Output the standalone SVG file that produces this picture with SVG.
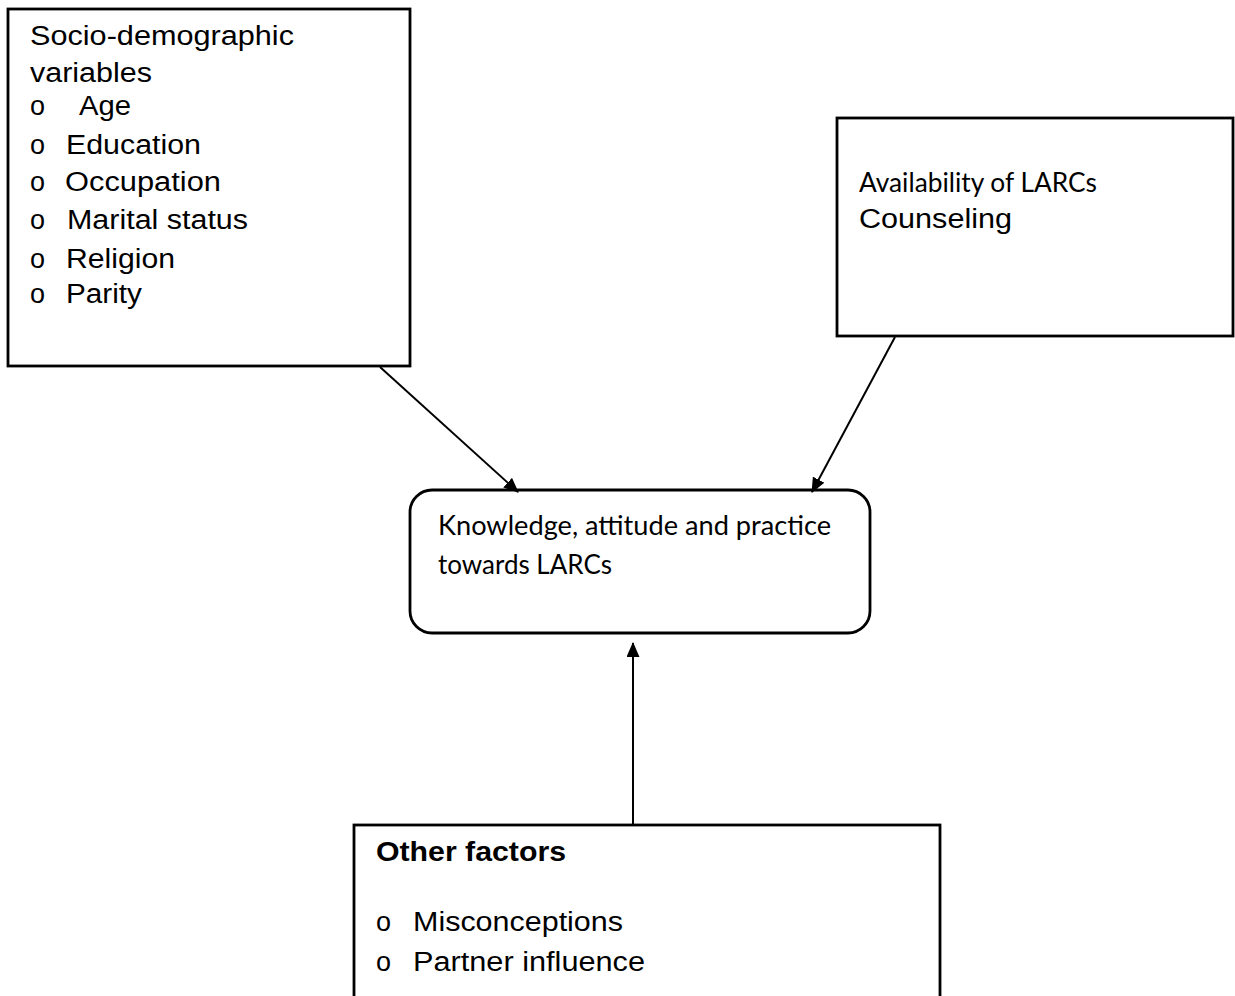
<svg xmlns="http://www.w3.org/2000/svg" width="1235" height="996" viewBox="0 0 1235 996">
<defs>
<marker id="ah" markerWidth="15" markerHeight="13" refX="14" refY="6.5" orient="auto" markerUnits="userSpaceOnUse" viewBox="0 0 15 13">
<path d="M0,0 L15,6.5 L0,13 z" fill="#000"/>
</marker>
<style>
.box{fill:#fff;stroke:#000;stroke-width:2.8}
.a{font-family:"Liberation Sans",Arial,sans-serif;font-size:27px;fill:#000}
.c{font-family:Lato,"Liberation Sans",sans-serif;font-size:26px;fill:#000}
.b{font-family:"Liberation Sans",Arial,sans-serif;font-size:27px;font-weight:bold;fill:#000}
.ln{stroke:#000;stroke-width:2;fill:none}
</style>
</defs>
<rect width="1235" height="996" fill="#fff"/>
<g id="socio">
<rect class="box" x="8" y="9" width="402" height="357"/>
<text class="a" x="30" y="45" textLength="264" lengthAdjust="spacingAndGlyphs">Socio-demographic</text>
<text class="a" x="30" y="82" textLength="122" lengthAdjust="spacingAndGlyphs">variables</text>
<text class="a" x="30" y="115">o</text><text class="a" x="79" y="115" textLength="52" lengthAdjust="spacingAndGlyphs">Age</text>
<text class="a" x="30" y="154">o</text><text class="a" x="66" y="154" textLength="135" lengthAdjust="spacingAndGlyphs">Education</text>
<text class="a" x="30" y="191">o</text><text class="a" x="65" y="191" textLength="156" lengthAdjust="spacingAndGlyphs">Occupation</text>
<text class="a" x="30" y="229">o</text><text class="a" x="67" y="229" textLength="181" lengthAdjust="spacingAndGlyphs">Marital status</text>
<text class="a" x="30" y="268">o</text><text class="a" x="66" y="268" textLength="109" lengthAdjust="spacingAndGlyphs">Religion</text>
<text class="a" x="30" y="303">o</text><text class="a" x="66" y="303" textLength="76" lengthAdjust="spacingAndGlyphs">Parity</text>
</g>
<g id="availability">
<rect class="box" x="837" y="118" width="396" height="218"/>
<text class="c" x="859" y="192" textLength="238" lengthAdjust="spacingAndGlyphs">Availability of LARCs</text>
<text class="a" x="859" y="228" textLength="153" lengthAdjust="spacingAndGlyphs">Counseling</text>
</g>
<g id="kap">
<rect class="box" x="410" y="490" width="460" height="143" rx="22" ry="22"/>
<text class="c" x="438" y="535" textLength="393" lengthAdjust="spacingAndGlyphs">Knowledge, attitude and practice</text>
<text class="c" x="438" y="574" textLength="174" lengthAdjust="spacingAndGlyphs">towards LARCs</text>
</g>
<g id="other">
<rect class="box" x="354" y="825" width="586" height="190"/>
<text class="b" x="376" y="861" textLength="190" lengthAdjust="spacingAndGlyphs">Other factors</text>
<text class="a" x="376" y="931">o</text><text class="a" x="413" y="931" textLength="210" lengthAdjust="spacingAndGlyphs">Misconceptions</text>
<text class="a" x="376" y="971">o</text><text class="a" x="413" y="971" textLength="232" lengthAdjust="spacingAndGlyphs">Partner influence</text>
</g>
<g id="connectors">
<line class="ln" x1="380" y1="367" x2="518" y2="492" marker-end="url(#ah)"/>
<line class="ln" x1="895" y1="337" x2="812" y2="492" marker-end="url(#ah)"/>
<line class="ln" x1="633" y1="825" x2="633" y2="643" marker-end="url(#ah)"/>
</g>
</svg>
